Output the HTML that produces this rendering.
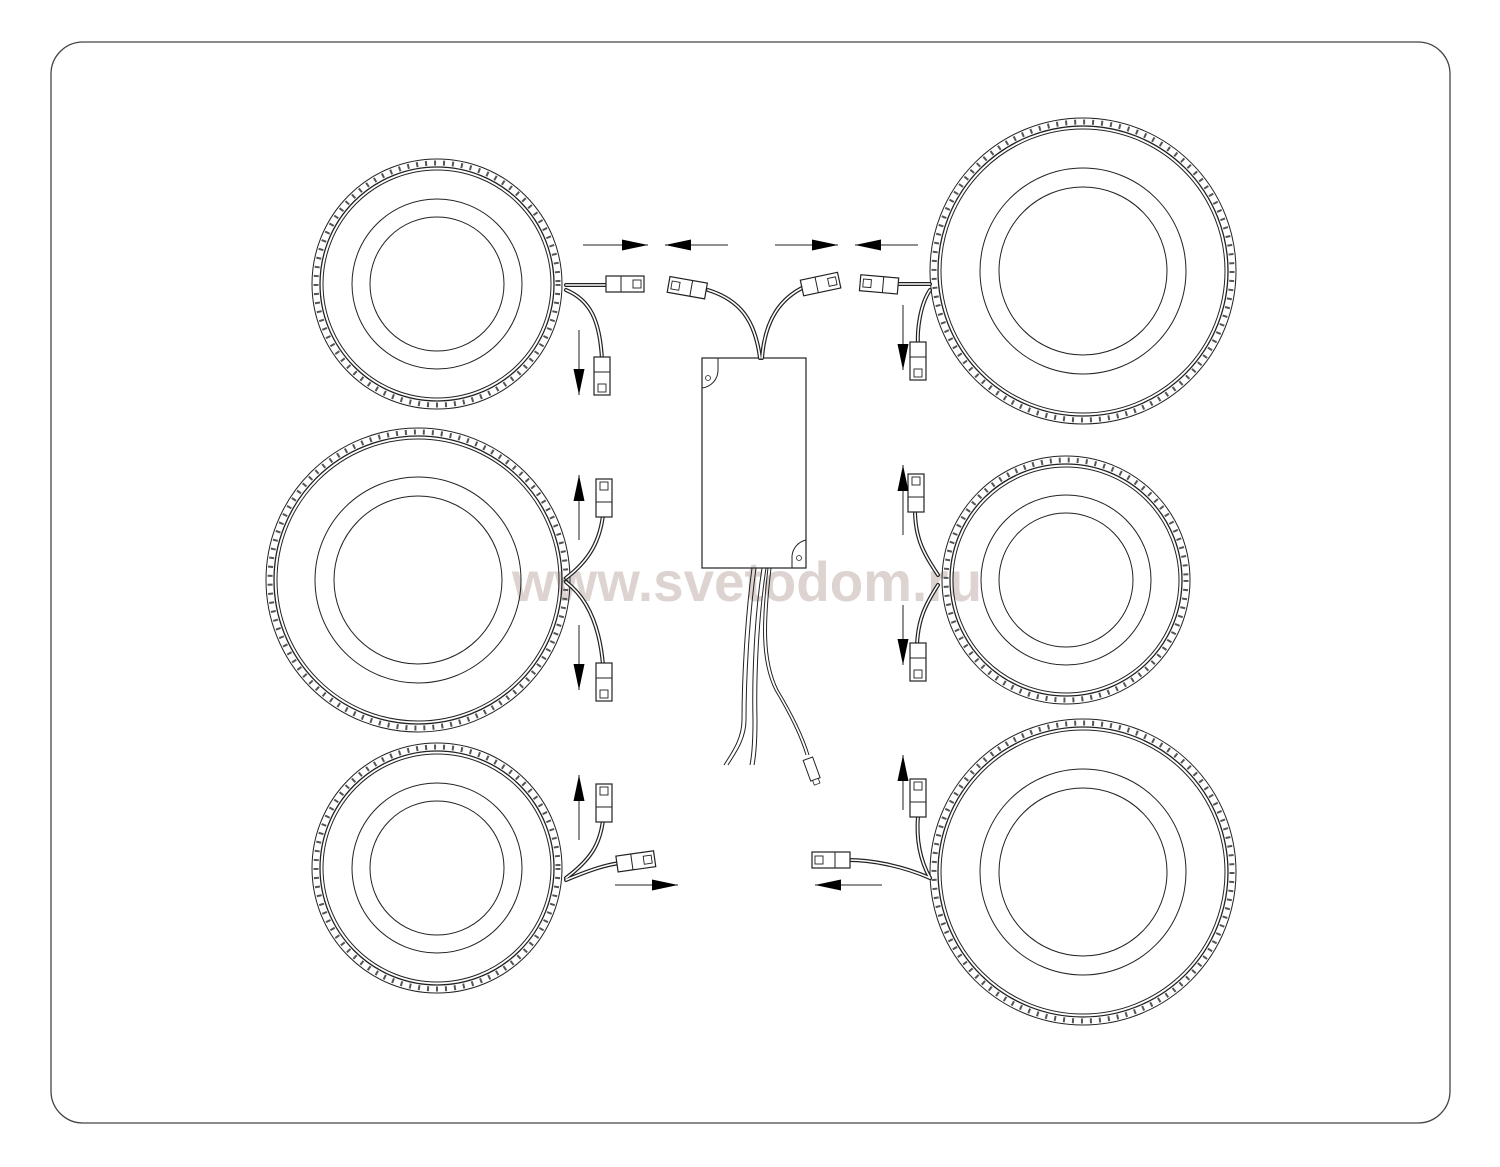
<!DOCTYPE html>
<html><head><meta charset="utf-8"><style>html,body{margin:0;padding:0;background:#fff}svg{display:block}</style></head>
<body>
<svg width="1500" height="1167" viewBox="0 0 1500 1167" xmlns="http://www.w3.org/2000/svg">
<defs>
<marker id="ahb" markerWidth="26" markerHeight="12" refX="26" refY="6" orient="auto" markerUnits="userSpaceOnUse">
<path d="M0,0.5 L26,6 L0,11.5 Z" fill="#000"/></marker>
<g id="conn">
<rect x="0" y="-8" width="38" height="16" fill="#fff" stroke="#222" stroke-width="1.2"/>
<line x1="15" y1="-8" x2="15" y2="8" stroke="#222" stroke-width="1"/>
<rect x="27" y="-4" width="8" height="8" fill="none" stroke="#222" stroke-width="0.9"/>
</g>
</defs>
<rect x="51" y="42" width="1399" height="1081" rx="32" fill="#fff" stroke="#444" stroke-width="1.3"/>

<text x="512" y="601" font-family="Liberation Sans, sans-serif" font-weight="bold" font-size="56" fill="#ddd4d1" textLength="470" lengthAdjust="spacingAndGlyphs">www.svetodom.ru</text>

<g fill="none" stroke="#222">
<g transform="translate(437,284)">
<circle r="125" stroke-width="1"/><circle r="121" stroke-width="5" stroke="#555" stroke-dasharray="2 7"/>
<circle r="117" stroke-width="1.3"/><circle r="114" stroke-width="1"/>
<circle r="85" stroke-width="1"/><circle r="67" stroke-width="1"/></g>
<g transform="translate(418,580)">
<circle r="152" stroke-width="1"/><circle r="148" stroke-width="5" stroke="#555" stroke-dasharray="2 7"/>
<circle r="144" stroke-width="1.3"/><circle r="141" stroke-width="1"/>
<circle r="103" stroke-width="1"/><circle r="84" stroke-width="1"/></g>
<g transform="translate(437,868)">
<circle r="125" stroke-width="1"/><circle r="121" stroke-width="5" stroke="#555" stroke-dasharray="2 7"/>
<circle r="117" stroke-width="1.3"/><circle r="114" stroke-width="1"/>
<circle r="85" stroke-width="1"/><circle r="67" stroke-width="1"/></g>
<g transform="translate(1083,271)">
<circle r="153" stroke-width="1"/><circle r="149" stroke-width="5" stroke="#555" stroke-dasharray="2 7"/>
<circle r="145" stroke-width="1.3"/><circle r="142" stroke-width="1"/>
<circle r="103" stroke-width="1"/><circle r="84" stroke-width="1"/></g>
<g transform="translate(1066,580)">
<circle r="124" stroke-width="1"/><circle r="120" stroke-width="5" stroke="#555" stroke-dasharray="2 7"/>
<circle r="116" stroke-width="1.3"/><circle r="113" stroke-width="1"/>
<circle r="85" stroke-width="1"/><circle r="67" stroke-width="1"/></g>
<g transform="translate(1083,872)">
<circle r="153" stroke-width="1"/><circle r="149" stroke-width="5" stroke="#555" stroke-dasharray="2 7"/>
<circle r="145" stroke-width="1.3"/><circle r="142" stroke-width="1"/>
<circle r="103" stroke-width="1"/><circle r="84" stroke-width="1"/></g>

<rect x="702" y="358" width="104" height="210" stroke-width="1.2"/>
<path d="M702,388 A18,18 0 0 0 718,370 L718,358" stroke-width="1"/>
<circle cx="708" cy="378" r="2.5" stroke-width="0.8"/>
<path d="M806,540 A18,18 0 0 0 792,556 L792,568" stroke-width="1"/>
<circle cx="799" cy="558" r="2.5" stroke-width="0.8"/>
</g>

<g fill="none" stroke="#222" stroke-width="4" stroke-linecap="round">
<path d="M760,358 C755,320 740,300 708,290"/>
<path d="M762,358 C765,320 780,298 806,286"/>
<path d="M566,285 L610,285"/>
<path d="M566,290 C590,300 600,320 602,360"/>
<path d="M930,284 L894,284"/>
<path d="M930,290 C920,305 917,330 918,345"/>
<path d="M566,578 C590,560 600,540 603,515"/>
<path d="M566,582 C590,600 600,630 603,665"/>
<path d="M938,575 C925,555 915,540 915,510"/>
<path d="M938,585 C925,605 918,620 917,645"/>
<path d="M566,878 C590,860 600,845 603,820"/>
<path d="M566,880 C590,870 605,865 620,863"/>
<path d="M930,878 C920,860 916,840 918,816"/>
<path d="M930,878 C900,865 870,860 848,860"/>
</g>
<g fill="none" stroke="#fff" stroke-width="1.6" stroke-linecap="round">
<path d="M760,358 C755,320 740,300 708,290"/>
<path d="M762,358 C765,320 780,298 806,286"/>
<path d="M566,285 L610,285"/>
<path d="M566,290 C590,300 600,320 602,360"/>
<path d="M930,284 L894,284"/>
<path d="M930,290 C920,305 917,330 918,345"/>
<path d="M566,578 C590,560 600,540 603,515"/>
<path d="M566,582 C590,600 600,630 603,665"/>
<path d="M938,575 C925,555 915,540 915,510"/>
<path d="M938,585 C925,605 918,620 917,645"/>
<path d="M566,878 C590,860 600,845 603,820"/>
<path d="M566,880 C590,870 605,865 620,863"/>
<path d="M930,878 C920,860 916,840 918,816"/>
<path d="M930,878 C900,865 870,860 848,860"/>
</g>
<g fill="none" stroke="#222" stroke-width="1">
<path d="M752,568 C745,620 742,680 742,720 C742,740 730,755 724,765"/>
<path d="M756,568 C749,620 746,680 746,720 C746,740 734,755 728,765"/>
<path d="M762,568 C754,620 752,680 753,720 C753,740 752,755 750,765"/>
<path d="M766,568 C758,620 756,680 757,720 C757,740 756,755 754,765"/>
<path d="M768,568 C762,620 760,660 775,690 C790,715 800,735 806,755"/>
<path d="M771,568 C765,620 763,660 778,690 C793,715 803,735 809,755"/>
</g>
<g transform="translate(812,770) rotate(-20)"><rect x="-5" y="-12" width="10" height="22" fill="#fff" stroke="#222" stroke-width="1"/><rect x="-3" y="10" width="6" height="5" fill="#fff" stroke="#222" stroke-width="0.8"/></g>

<use href="#conn" transform="translate(606,284) rotate(0)"/>
<use href="#conn" transform="translate(706,291) rotate(190)"/>
<use href="#conn" transform="translate(802,288) rotate(-12)"/>
<use href="#conn" transform="translate(898,286) rotate(185)"/>
<use href="#conn" transform="translate(602,357) rotate(90)"/>
<use href="#conn" transform="translate(918,342) rotate(90)"/>
<use href="#conn" transform="translate(604,517) rotate(-90)"/>
<use href="#conn" transform="translate(604,663) rotate(90)"/>
<use href="#conn" transform="translate(916,512) rotate(-90)"/>
<use href="#conn" transform="translate(918,643) rotate(90)"/>
<use href="#conn" transform="translate(604,822) rotate(-90)"/>
<use href="#conn" transform="translate(617,864) rotate(-8)"/>
<use href="#conn" transform="translate(918,817) rotate(-90)"/>
<use href="#conn" transform="translate(850,860) rotate(180)"/>

<g stroke="#222" stroke-width="1" marker-end="url(#ahb)">
<line x1="583" y1="245" x2="648" y2="245"/>
<line x1="728" y1="245" x2="665" y2="245"/>
<line x1="775" y1="245" x2="838" y2="245"/>
<line x1="918" y1="245" x2="855" y2="245"/>
<line x1="579" y1="330" x2="579" y2="395"/>
<line x1="903" y1="305" x2="903" y2="370"/>
<line x1="579" y1="540" x2="579" y2="475"/>
<line x1="579" y1="625" x2="579" y2="690"/>
<line x1="903" y1="535" x2="903" y2="465"/>
<line x1="903" y1="605" x2="903" y2="665"/>
<line x1="579" y1="840" x2="579" y2="775"/>
<line x1="903" y1="810" x2="903" y2="755"/>
<line x1="615" y1="885" x2="678" y2="885"/>
<line x1="882" y1="885" x2="815" y2="885"/>
</g>
</svg>
</body></html>
